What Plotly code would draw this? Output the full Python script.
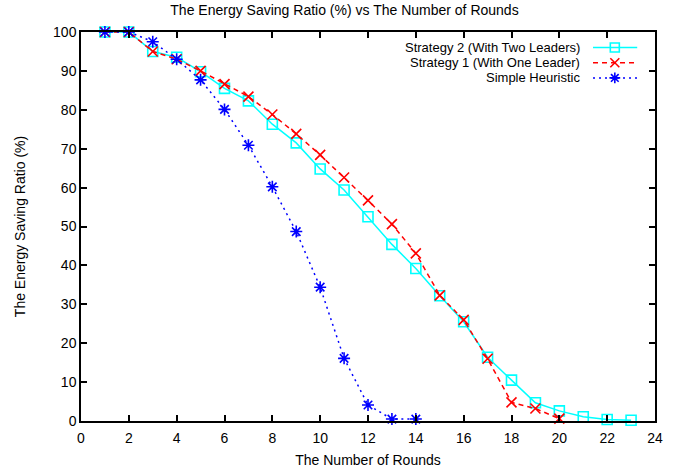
import plotly.graph_objects as go

rounds_s2 = list(range(1, 24))
ratio_s2 = [100, 100, 95, 93.5, 89.8, 85.5, 82.3, 76.3, 71.5, 64.8, 59.4, 52.5,
            45.4, 39.2, 32.2, 25.5, 16.4, 10.5, 4.7, 2.6, 1.1, 0.4, 0.2]
rounds_s1 = list(range(1, 21))
ratio_s1 = [100, 100, 95, 93, 90, 86.6, 83.4, 78.8, 73.8, 68.4, 62.6, 56.7,
            50.6, 43.1, 32.3, 26, 16, 4.8, 3.2, 0.6]
rounds_sh = list(range(1, 15))
ratio_sh = [100, 100, 97.5, 93, 87.7, 80.1, 70.9, 60.2, 48.7, 34.4, 16.1, 4.1, 0.5, 0.5]

names = ["Strategy 2 (With Two Leaders)", "Strategy 1 (With One Leader)", "Simple Heuristic"]
colors = ["#00FFFF", "#FF0000", "#0000FF"]
dashes = ["solid", "5px,4px", "2px,4px"]
symbols = ["square-open", "x-thin-open", "asterisk-open"]
msizes = [10, 10, 10]

font = "Liberation Sans, Arial, sans-serif"
fig = go.Figure()
series = [(rounds_s2, ratio_s2), (rounds_s1, ratio_s1), (rounds_sh, ratio_sh)]
for (xs, ys), nm, c, d, s, ms in zip(series, names, colors, dashes, symbols, msizes):
    fig.add_trace(go.Scatter(
        x=xs, y=ys, name=nm, mode="lines+markers",
        line=dict(color=c, width=1.5, dash=d),
        marker=dict(symbol=s, size=ms, color=c, line=dict(color=c, width=1.6)),
        showlegend=False, cliponaxis=False))

# custom legend (text right-aligned, sample on the right) on an overlay axis
leg_y = [0.960, 0.921, 0.882]
for i, (nm, c, d, s, ms) in enumerate(zip(names, colors, dashes, symbols, msizes)):
    fig.add_trace(go.Scatter(
        x=[0.892, 0.930, 0.969], y=[leg_y[i]] * 3, mode="lines",
        line=dict(color=c, width=1.5, dash=d), xaxis="x2", yaxis="y2",
        showlegend=False, hoverinfo="skip"))
    fig.add_trace(go.Scatter(
        x=[0.930], y=[leg_y[i]], mode="markers",
        marker=dict(symbol=s, size=9, color=c, line=dict(color=c, width=1.6)),
        xaxis="x2", yaxis="y2", showlegend=False, hoverinfo="skip"))
    fig.add_annotation(x=0.873, y=leg_y[i], xref="x2", yref="y2", text=nm,
                       showarrow=False, xanchor="right", yanchor="middle",
                       font=dict(family=font, size=13, color="black"))

axis_common = dict(showline=True, linecolor="black", linewidth=1.5, mirror="allticks",
                   ticks="inside", ticklen=6, tickwidth=1.5, tickcolor="black",
                   showgrid=False, zeroline=False, automargin=False,
                   tickfont=dict(family=font, size=14, color="black"))
fig.update_layout(
    width=689, height=471,
    margin=dict(l=81, r=34, t=32, b=50),
    paper_bgcolor="white", plot_bgcolor="white",
    title=dict(text="The Energy Saving Ratio (%) vs The Number of Rounds",
               x=0.5, xanchor="center", y=0.979, yanchor="middle",
               font=dict(family=font, size=14, color="black")),
    xaxis=dict(range=[0, 24], dtick=2, tick0=0, ticklabelstandoff=3,
               title=dict(text="The Number of Rounds", standoff=11,
                          font=dict(family=font, size=14, color="black")),
               **axis_common),
    yaxis=dict(range=[0, 100], dtick=10, tick0=0,
               title=dict(text="The Energy Saving Ratio (%)", standoff=24,
                          font=dict(family=font, size=14, color="black")),
               **axis_common),
    xaxis2=dict(range=[0, 1], overlaying="x", visible=False, fixedrange=True),
    yaxis2=dict(range=[0, 1], overlaying="y", visible=False, fixedrange=True),
    showlegend=False,
)
fig.write_html("out.html", config={"displayModeBar": False},
               post_script="document.body.style.margin='0';")
